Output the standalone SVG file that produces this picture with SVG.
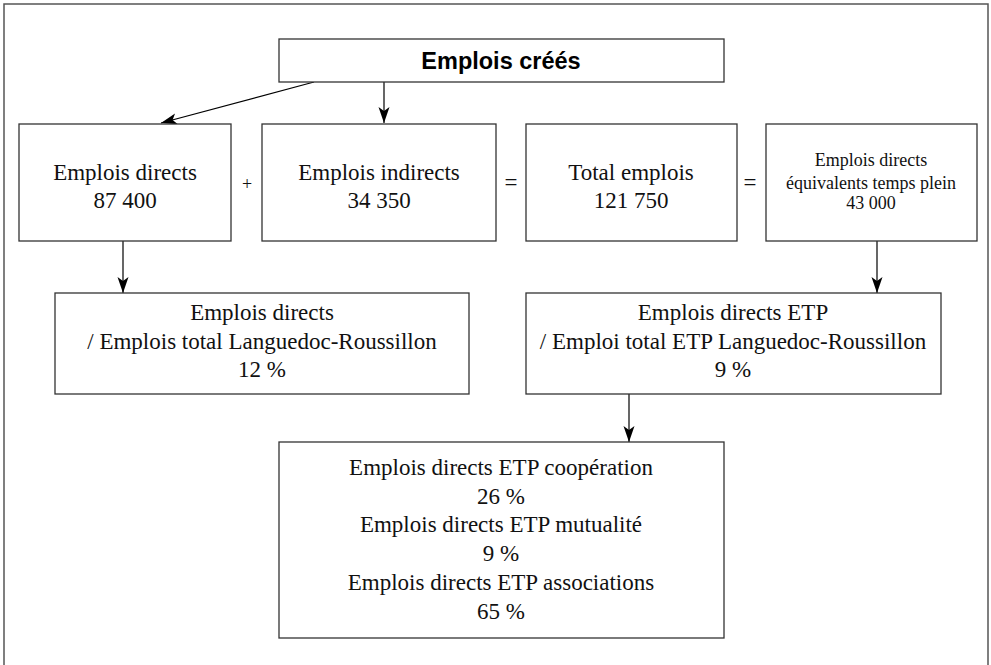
<svg xmlns="http://www.w3.org/2000/svg" width="991" height="665" viewBox="0 0 991 665">
<defs>
<marker id="ah" markerUnits="userSpaceOnUse" markerWidth="18" markerHeight="12" refX="16" refY="5.5" orient="auto">
<path d="M0,0 L16,5.5 L0,11 L4,5.5 Z" fill="#000"/>
</marker>
<style>
.box{fill:#fff;stroke:#333;stroke-width:1.3}
.t{font-family:"Liberation Serif","Times New Roman",serif;font-size:23px;fill:#111;text-anchor:middle}
.s{font-size:18px}
.b{font-family:"Liberation Sans",Arial,sans-serif;font-weight:bold;font-size:23.5px;fill:#000;text-anchor:middle}
.c{stroke:#000;stroke-width:1.2;fill:none;marker-end:url(#ah)}
</style>
</defs>
<rect width="991" height="665" fill="#fff"/>
<path d="M4,665 V4 H988 V665" fill="none" stroke="#555" stroke-width="1.5"/>
<g id="connectors">
<line class="c" x1="314" y1="82" x2="161" y2="123"/>
<line class="c" x1="384" y1="82" x2="384" y2="123"/>
<line class="c" x1="123" y1="241" x2="123" y2="293"/>
<line class="c" x1="877" y1="241" x2="877" y2="293"/>
<line class="c" x1="629" y1="394" x2="629" y2="442"/>
</g>
<g id="n-emplois-crees">
<rect class="box" x="279" y="39" width="445" height="43"/>
<text class="b" x="501" y="69">Emplois créés</text>
</g>
<g id="n-directs">
<rect class="box" x="19" y="124" width="212" height="117"/>
<text class="t" x="125" y="180">Emplois directs</text>
<text class="t" x="125" y="208">87 400</text>
</g>
<text class="t" x="247" y="190" style="font-size:18px">+</text>
<g id="n-indirects">
<rect class="box" x="262" y="124" width="234" height="117"/>
<text class="t" x="379" y="180">Emplois indirects</text>
<text class="t" x="379" y="208">34 350</text>
</g>
<text class="t" x="511" y="190">=</text>
<g id="n-total">
<rect class="box" x="526" y="124" width="211" height="117"/>
<text class="t" x="631" y="180">Total emplois</text>
<text class="t" x="631" y="208">121 750</text>
</g>
<text class="t" x="750" y="190">=</text>
<g id="n-etp">
<rect class="box" x="766" y="124" width="211" height="117"/>
<text class="t s" x="871" y="166">Emplois directs</text>
<text class="t s" x="871" y="189">équivalents temps plein</text>
<text class="t s" x="871" y="209">43 000</text>
</g>
<g id="n-part-directs">
<rect class="box" x="55" y="293" width="414" height="101"/>
<text class="t" x="262" y="320">Emplois directs</text>
<text class="t" x="262" y="349">/ Emplois total Languedoc-Roussillon</text>
<text class="t" x="262" y="377">12 %</text>
</g>
<g id="n-part-etp">
<rect class="box" x="526" y="293" width="415" height="101"/>
<text class="t" x="733" y="320">Emplois directs ETP</text>
<text class="t" x="733" y="349">/ Emploi total ETP Languedoc-Roussillon</text>
<text class="t" x="733" y="377">9 %</text>
</g>
<g id="n-repartition">
<rect class="box" x="279" y="442" width="445" height="196"/>
<text class="t" x="501" y="475">Emplois directs ETP coopération</text>
<text class="t" x="501" y="504">26 %</text>
<text class="t" x="501" y="532">Emplois directs ETP mutualité</text>
<text class="t" x="501" y="561">9 %</text>
<text class="t" x="501" y="590">Emplois directs ETP associations</text>
<text class="t" x="501" y="619">65 %</text>
</g>
</svg>
